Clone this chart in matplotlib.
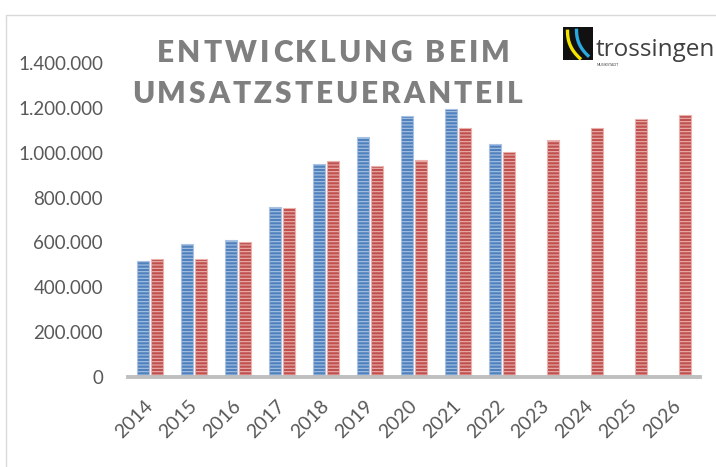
import numpy as np
import matplotlib
matplotlib.use("Agg")
import matplotlib.pyplot as plt
from matplotlib.font_manager import FontProperties
from matplotlib.patches import Rectangle
from matplotlib.ticker import FuncFormatter

# Umsatzsteueranteil (Euro)
years = [2014, 2015, 2016, 2017, 2018, 2019, 2020, 2021, 2022, 2023, 2024, 2025, 2026]
ergebnis = [518000, 592000, 609000, 759000, 948000, 1070000, 1162000, 1195000, 1039000,
            np.nan, np.nan, np.nan, np.nan]
planung = [525000, 525000, 603000, 753000, 962000, 941000, 967000, 1109000, 1005000,
           1058000, 1110000, 1150000, 1168000]
yticks = [0, 200000, 400000, 600000, 800000, 1000000, 1200000, 1400000]
title_lines = ["ENTWICKLUNG BEIM", "UMSATZSTEUERANTEIL"]

W, H = 716, 467
plt.rcParams['font.family'] = ['Lato', 'DejaVu Sans']
plt.rcParams['hatch.linewidth'] = 0.8

fig = plt.figure(figsize=(W / 100, H / 100), dpi=100)
ax = fig.add_axes([128 / W, 1 - 377 / H, 572 / W, 314 / H])

x = np.arange(len(years))
bw = 0.26
ax.bar(x - 0.16, ergebnis, bw, color='#4f81bd', edgecolor='#a9c2e4',
       hatch='-----', linewidth=0.8)
ax.bar(x + 0.16, planung, bw, color='#c0504d', edgecolor='#eab0ae',
       hatch='-----', linewidth=0.8)

ax.set_xlim(-0.5, len(years) - 0.5)
ax.set_ylim(0, 1400000)
ax.set_yticks(yticks)
ax.yaxis.set_major_formatter(FuncFormatter(lambda v, p: f"{int(v):,}".replace(',', '.')))
ax.set_xticks(x)
ax.set_xticklabels([str(y) for y in years], rotation=45, ha='right', va='center',
                   rotation_mode='anchor')
ax.tick_params(axis='y', length=0, pad=18, labelsize=13.5, labelcolor='#595959')
ax.tick_params(axis='x', length=0, pad=19, labelsize=14, labelcolor='#595959')
for s in ['top', 'right', 'left']:
    ax.spines[s].set_visible(False)
ax.spines['bottom'].set_color('#bfbfbf')
ax.spines['bottom'].set_linewidth(2.8)

# Rahmen des Diagramms
fig.patches.append(Rectangle((6 / W, -0.2), 2, 1.2 - 15 / H, transform=fig.transFigure,
                             fill=False, edgecolor='#d9d9d9', linewidth=1))


def tracked_text(s, x0, x1, y, fp, color):
    # Buchstaben einzeln setzen, damit der Titel gesperrt wirkt
    renderer = fig.canvas.get_renderer()
    widths = [renderer.get_text_width_height_descent(c, fp, ismath=False)[0] for c in s]
    gap = (x1 - x0 - sum(widths)) / (len(s) - 1)
    pos = x0
    for c, w in zip(s, widths):
        fig.text(pos / W, 1 - y / H, c, fontproperties=fp, ha='left', va='baseline',
                 color=color)
        pos += w + gap


title_fp = FontProperties(family='Lato', weight='heavy', size=21.5)
tracked_text(title_lines[0], 157, 510, 61.5, title_fp, '#7f7f7f')
tracked_text(title_lines[1], 132, 523, 103, title_fp, '#7f7f7f')

# Logo Trossingen
lax = fig.add_axes([563 / W, 1 - 60 / H, 30 / W, 33 / H])
lax.set_xlim(0, 1)
lax.set_ylim(0, 1)
lax.axis('off')
lax.add_patch(Rectangle((0, 0), 1, 1, color='#111111'))
t = np.linspace(0, 1, 50)
lax.plot(0.15 + 0.45 * t ** 2.5, 0.92 - 0.9 * t, color='#f2e600', linewidth=2.4,
         solid_capstyle='butt')
lax.plot(0.45 + 0.42 * t ** 2.5, 0.95 - 0.85 * t, color='#2aa8e0', linewidth=2.4,
         solid_capstyle='butt')
fig.text(596 / W, 1 - 56.5 / H, "trossingen", fontsize=17.5, color='#404040',
         family='Open Sans', ha='left', va='baseline')
fig.text(597 / W, 1 - 66 / H, "MUSIKSTADT", fontsize=2.5, color='#404040',
         ha='left', va='baseline')

fig.savefig("out.png", dpi=100)
